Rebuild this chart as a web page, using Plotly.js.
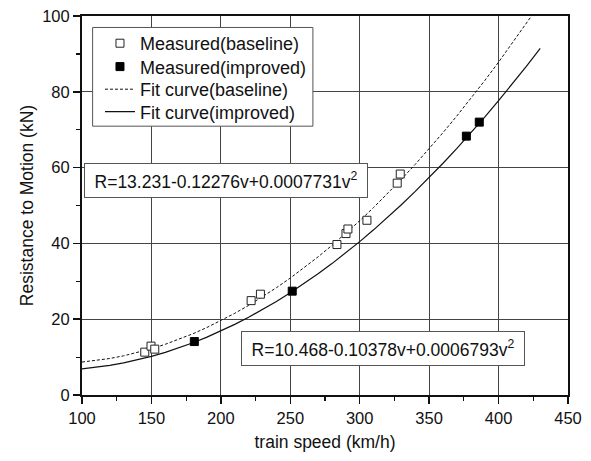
<!DOCTYPE html>
<html>
<head>
<meta charset="utf-8">
<script src="https://cdn.plot.ly/plotly-3.0.1.min.js"></script>
<style>html,body{margin:0;padding:0;background:#fff;}#chart{width:591px;height:461px;}</style>
</head>
<body>
<div id="chart"></div>
<script>
// Measured points
var baselineSpeed = [145.2, 149.7, 152.4, 221.8, 228.5, 283.6, 290.1, 291.5, 305.2, 327.0, 329.2];
var baselineR     = [11.3, 12.9, 12.1, 24.9, 26.6, 39.7, 42.6, 43.8, 46.1, 55.9, 58.3];
var improvedSpeed = [180.9, 251.4, 376.8, 386.1];
var improvedR     = [14.1, 27.4, 68.3, 72.0];

// Fit curves
var fitBaseSpeed = [100,110,120,130,140,150,160,170,180,190,200,210,220,230,240,250,260,270,280,290,300,310,320,330,340,350,360,370,380,390,400,410,420,424];
var fitBaseR = [8.69,9.08,9.63,10.34,11.20,12.21,13.38,14.71,16.18,17.82,19.60,21.55,23.64,25.89,28.30,30.86,33.58,36.45,39.47,42.65,45.98,49.47,53.11,56.91,60.86,64.97,69.23,73.65,78.22,82.94,87.82,92.86,98.05,100.16];
var fitImpSpeed = [100,110,120,130,140,150,160,170,180,190,200,210,220,230,240,250,260,270,280,290,300,310,320,330,340,350,360,370,380,390,400,410,420,430];
var fitImpR = [6.88,7.27,7.80,8.46,9.25,10.19,11.25,12.46,13.80,15.27,16.88,18.63,20.51,22.53,24.69,26.98,29.41,31.97,34.67,37.50,40.47,43.58,46.82,50.20,53.71,57.36,61.14,65.07,69.12,73.32,77.64,82.11,86.71,91.45];

var legendNames = ["Measured(baseline)", "Measured(improved)", "Fit curve(baseline)", "Fit curve(improved)"];
var formulaBase = "R=13.231-0.12276v+0.0007731v<sup>2</sup>";
var formulaImp  = "R=10.468-0.10378v+0.0006793v<sup>2</sup>";
var xTitle = "train speed (km/h)";
var yTitle = "Resistance to Motion (kN)";

var FONT = "Liberation Sans, Arial, sans-serif";

var traces = [
  {x: fitBaseSpeed, y: fitBaseR, mode: "lines", name: legendNames[2], legend: "legend3",
   line: {color: "#111", width: 1, dash: "3px,2px"}},
  {x: fitImpSpeed, y: fitImpR, mode: "lines", name: legendNames[3], legend: "legend4",
   line: {color: "#111", width: 1.2}},
  {x: baselineSpeed, y: baselineR, mode: "markers", name: legendNames[0], legend: "legend",
   marker: {symbol: "square", size: 8, color: "#fff", line: {color: "#222", width: 1}}},
  {x: improvedSpeed, y: improvedR, mode: "markers", name: legendNames[1], legend: "legend2",
   marker: {symbol: "square", size: 8, color: "#000", line: {color: "#000", width: 1}}}
];

function leg(yc) {
  return {x: 0.037, y: yc, xanchor: "left", yanchor: "middle",
          bgcolor: "rgba(0,0,0,0)", borderwidth: 0,
          font: {family: FONT, size: 18, color: "#111"}};
}

var layout = {
  width: 591, height: 461,
  margin: {l: 82, r: 23, t: 16, b: 66, pad: 0},
  paper_bgcolor: "#fff", plot_bgcolor: "#fff",
  font: {family: FONT, color: "#111", size: 16},
  showlegend: true,
  legend: leg(0.9274),
  legend2: leg(0.8657),
  legend3: leg(0.8061),
  legend4: leg(0.7470),
  shapes: [
    {type: "rect", xref: "paper", yref: "paper", x0: 0.0218, x1: 0.4751, y0: 0.7093, y1: 0.9697,
     line: {color: "#555", width: 1}, fillcolor: "#fff", layer: "above"}
  ],
  xaxis: {range: [100, 450], dtick: 50, tick0: 100,
          showline: true, linecolor: "#111", linewidth: 2, mirror: true,
          showgrid: true, gridcolor: "#444", gridwidth: 1, zeroline: false,
          ticks: "outside", ticklen: 7, tickwidth: 1.5, tickcolor: "#111",
          minor: {ticks: "outside", ticklen: 4, dtick: 25, tickcolor: "#111", tickwidth: 1.2, showgrid: false},
          tickfont: {family: FONT, size: 16.5, color: "#111"},
          title: {text: xTitle, font: {family: FONT, size: 17.5, color: "#111"}, standoff: 10}},
  yaxis: {range: [0, 100], dtick: 20, tick0: 0,
          showline: true, linecolor: "#111", linewidth: 2, mirror: true,
          showgrid: true, gridcolor: "#444", gridwidth: 1, zeroline: false,
          ticks: "outside", ticklen: 7, tickwidth: 1.5, tickcolor: "#111",
          minor: {ticks: "outside", ticklen: 4, dtick: 10, tickcolor: "#111", tickwidth: 1.2, showgrid: false},
          tickfont: {family: FONT, size: 16.5, color: "#111"},
          title: {text: yTitle, font: {family: FONT, size: 17.5, color: "#111"}, standoff: 4}},
  annotations: [
    {xref: "paper", yref: "paper", x: 0.296, y: 0.565, xanchor: "center", yanchor: "middle",
     text: formulaBase, showarrow: false, font: {family: FONT, size: 17.5, color: "#111"},
     bgcolor: "#fff", bordercolor: "#555", borderwidth: 1, borderpad: 5, width: 272, height: 23},
    {xref: "paper", yref: "paper", x: 0.619, y: 0.124, xanchor: "center", yanchor: "middle",
     text: formulaImp, showarrow: false, font: {family: FONT, size: 17.5, color: "#111"},
     bgcolor: "#fff", bordercolor: "#555", borderwidth: 1, borderpad: 5, width: 272, height: 23}
  ]
};

Plotly.newPlot("chart", traces, layout, {displayModeBar: false, staticPlot: true});
</script>
</body>
</html>
